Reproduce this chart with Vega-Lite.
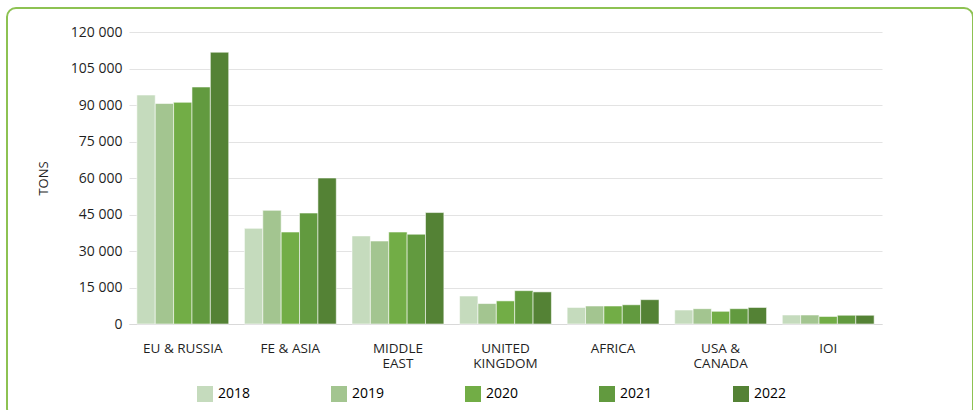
{
  "$schema": "https://vega.github.io/schema/vega-lite/v6.json",
  "autosize": "none",
  "width": 966,
  "height": 410,
  "padding": {"left": 7, "top": 8, "right": 0, "bottom": 0},
  "background": "#ffffff",
  "config": {
    "view": {"stroke": "#8DC252", "strokeWidth": 2, "cornerRadius": 9},
    "font": "Open Sans",
    "axis": {"labelFont": "Open Sans", "titleFont": "Open Sans", "labelColor": "#1f1f1f", "titleColor": "#1f1f1f"},
    "legend": {"labelFont": "Open Sans"}
  },
  "data": {
    "values": [
      {"region": "EU & RUSSIA", "year": "2018", "tons": 94100},
      {"region": "EU & RUSSIA", "year": "2019", "tons": 90600},
      {"region": "EU & RUSSIA", "year": "2020", "tons": 91100},
      {"region": "EU & RUSSIA", "year": "2021", "tons": 97400},
      {"region": "EU & RUSSIA", "year": "2022", "tons": 111700},
      {"region": "FE & ASIA", "year": "2018", "tons": 39300},
      {"region": "FE & ASIA", "year": "2019", "tons": 46700},
      {"region": "FE & ASIA", "year": "2020", "tons": 37800},
      {"region": "FE & ASIA", "year": "2021", "tons": 45600},
      {"region": "FE & ASIA", "year": "2022", "tons": 60000},
      {"region": "MIDDLE EAST", "year": "2018", "tons": 36200},
      {"region": "MIDDLE EAST", "year": "2019", "tons": 34100},
      {"region": "MIDDLE EAST", "year": "2020", "tons": 37800},
      {"region": "MIDDLE EAST", "year": "2021", "tons": 36900},
      {"region": "MIDDLE EAST", "year": "2022", "tons": 45800},
      {"region": "UNITED KINGDOM", "year": "2018", "tons": 11500},
      {"region": "UNITED KINGDOM", "year": "2019", "tons": 8400},
      {"region": "UNITED KINGDOM", "year": "2020", "tons": 9500},
      {"region": "UNITED KINGDOM", "year": "2021", "tons": 13700},
      {"region": "UNITED KINGDOM", "year": "2022", "tons": 13200},
      {"region": "AFRICA", "year": "2018", "tons": 6800},
      {"region": "AFRICA", "year": "2019", "tons": 7400},
      {"region": "AFRICA", "year": "2020", "tons": 7400},
      {"region": "AFRICA", "year": "2021", "tons": 7900},
      {"region": "AFRICA", "year": "2022", "tons": 10000},
      {"region": "USA & CANADA", "year": "2018", "tons": 5750},
      {"region": "USA & CANADA", "year": "2019", "tons": 6300},
      {"region": "USA & CANADA", "year": "2020", "tons": 5200},
      {"region": "USA & CANADA", "year": "2021", "tons": 6300},
      {"region": "USA & CANADA", "year": "2022", "tons": 6800},
      {"region": "IOI", "year": "2018", "tons": 3700},
      {"region": "IOI", "year": "2019", "tons": 3700},
      {"region": "IOI", "year": "2020", "tons": 3100},
      {"region": "IOI", "year": "2021", "tons": 3600},
      {"region": "IOI", "year": "2022", "tons": 3600}
    ]
  },
  "mark": {"type": "bar", "stroke": "#ffffff", "strokeWidth": 0.8, "strokeOpacity": 0.7},
  "encoding": {
    "x": {
      "field": "region",
      "type": "nominal",
      "sort": ["EU & RUSSIA", "FE & ASIA", "MIDDLE EAST", "UNITED KINGDOM", "AFRICA", "USA & CANADA", "IOI"],
      "scale": {"range": [122, 875], "paddingInner": 0.146, "paddingOuter": 0.073},
      "axis": {
        "title": null,
        "orient": "bottom",
        "offset": -94,
        "labelAngle": 0,
        "ticks": false,
        "domainColor": "#D9D9D9",
        "domainWidth": 1,
        "labelFontSize": 13.5,
        "labelPadding": 17,
        "labelLineHeight": 15.5,
        "labelExpr": "datum.label == 'MIDDLE EAST' ? ['MIDDLE','EAST'] : datum.label == 'UNITED KINGDOM' ? ['UNITED','KINGDOM'] : datum.label == 'USA & CANADA' ? ['USA &','CANADA'] : datum.label"
      }
    },
    "xOffset": {"field": "year", "type": "nominal", "scale": {"paddingInner": 0, "paddingOuter": 0}},
    "y": {
      "field": "tons",
      "type": "quantitative",
      "scale": {"domain": [0, 120000], "range": [316, 24], "nice": false},
      "axis": {
        "title": "TONS",
        "titleFontSize": 13,
        "titleFontWeight": "normal",
        "titlePadding": 20,
        "offset": -122,
        "values": [0, 15000, 30000, 45000, 60000, 75000, 90000, 105000, 120000],
        "labelExpr": "replace(format(datum.value, ','), ',', ' ')",
        "labelFontSize": 14,
        "labelPadding": 7,
        "domain": false,
        "ticks": false,
        "gridColor": "#E3E3E3",
        "gridWidth": 1
      }
    },
    "color": {
      "field": "year",
      "type": "nominal",
      "scale": {"domain": ["2018", "2019", "2020", "2021", "2022"], "range": ["#C5DBBD", "#A3C590", "#72AD46", "#629A3F", "#548235"]},
      "legend": {
        "title": null,
        "orient": "none",
        "direction": "horizontal",
        "legendX": 190,
        "legendY": 378,
        "columns": 5,
        "gridAlign": "all",
        "columnPadding": 80,
        "symbolType": "square",
        "symbolSize": 256,
        "symbolStrokeWidth": 0,
        "labelFontSize": 14,
        "labelOffset": 5,
        "labelColor": "#000000"
      }
    }
  }
}
